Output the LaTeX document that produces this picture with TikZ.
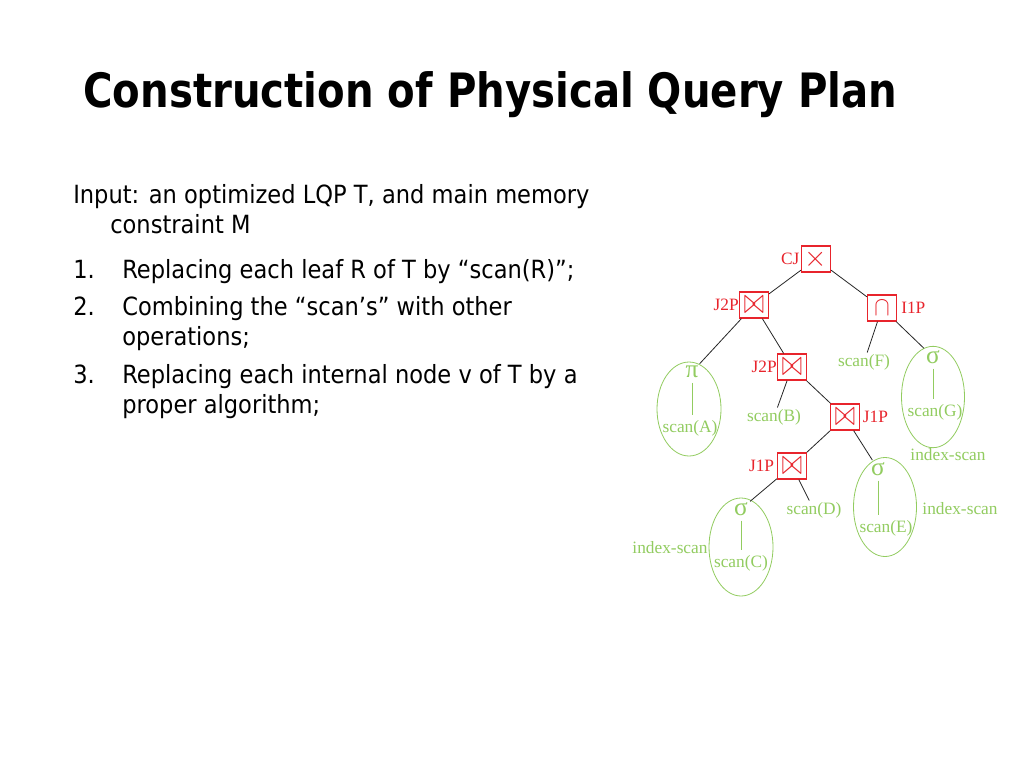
\documentclass[tikz,border=0pt]{standalone}
\usepackage{fontspec}
\setmainfont{Liberation Serif}
\newfontfamily\tahoma[FakeStretch=0.9]{DejaVu Sans}
\newfontfamily\tahomatitle[FakeStretch=0.85]{DejaVu Sans}
\usetikzlibrary{shapes.geometric,positioning}
\definecolor{opred}{RGB}{232,36,44}
\definecolor{leafgreen}{RGB}{146,204,96}

\begin{document}
\begin{tikzpicture}
    [x=0.75pt,y=-0.75pt,
     title/.style={anchor=base west,inner sep=0,font=\tahomatitle\bfseries\fontsize{35.5}{40}\selectfont},
     body/.style={anchor=base west,inner sep=0,font=\tahoma\fontsize{18.8}{22}\selectfont},
     opbox/.style={draw=opred,line width=1pt,minimum width=21.5pt,minimum height=19.5pt,inner sep=0,text=opred,font=\fontsize{15}{15}\selectfont},
     oplabel/.style={text=opred,inner sep=0,font=\fontsize{13}{14}\selectfont},
     leaf/.style={text=leafgreen,inner sep=1pt,font=\fontsize{13}{14}\selectfont},
     greek/.style={text=leafgreen,inner sep=1.5pt,font=\fontsize{19}{19}\selectfont},
     block/.style={ellipse,draw=leafgreen,line width=0.6pt,inner sep=0},
     tree/.style={draw=black!85,line width=0.6pt},
     stem/.style={draw=leafgreen,line width=0.6pt,shorten <=2pt,shorten >=3pt}]
    \fill[white] (0,0) rectangle (1024,768);
    \useasboundingbox (0,0) rectangle (1024,768);

    % text on the left
    \node[title] (ttl) at (83,107) {Construction of Physical Query Plan};
    \node[body] (in1) at (73,203) {Input: an optimized LQP T, and main memory};
    \node[body] (in2) at (110,233) {constraint M};
    \node[body] (n1) at (73,278) {1.};
    \node[body] (s1) at (122,278) {Replacing each leaf R of T by “scan(R)”;};
    \node[body] (n2) at (73,315) {2.};
    \node[body] (s2) at (122,315) {Combining the “scan’s” with other};
    \node[body] (s2b) at (122,345) {operations;};
    \node[body] (n3) at (73,383) {3.};
    \node[body] (s3) at (122,383) {Replacing each internal node v of T by a};
    \node[body] (s3b) at (122,413) {proper algorithm;};

    % operators
    \node[opbox] (cj) at (816,259) {\scalebox{1.5}{$\times$}};
    \node[opbox] (j2top) at (754,305) {\scalebox{1.3}[1.9]{$\bowtie$}};
    \node[opbox] (i1) at (882,308) {\scalebox{1.2}[1.4]{$\cap$}};
    \node[opbox] (j2mid) at (792,367) {\scalebox{1.3}[1.9]{$\bowtie$}};
    \node[opbox] (j1mid) at (845,417) {\scalebox{1.3}[1.9]{$\bowtie$}};
    \node[opbox] (j1low) at (792,466) {\scalebox{1.3}[1.9]{$\bowtie$}};
    \node[oplabel,left=1pt of cj] (cjname) {CJ};
    \node[oplabel,left=0pt of j2top] (j2topname) {J2P};
    \node[oplabel,right=3pt of i1] (i1name) {I1P};
    \node[oplabel,left=0pt of j2mid] (j2midname) {J2P};
    \node[oplabel,right=2pt of j1mid] (j1midname) {J1P};
    \node[oplabel,left=2pt of j1low] (j1lowname) {J1P};

    % leaves
    \node[block,minimum width=48pt,minimum height=70.5pt] (blkA) at (689,409) {};
    \node[greek] (piA) at (692,372) {π};
    \node[leaf] (scanA) at (690,428) {scan(A)};
    \node[block,minimum width=47.25pt,minimum height=76pt] (blkG) at (933,397) {};
    \node[greek] (sigG) at (933,357) {σ};
    \node[leaf] (scanG) at (935,412) {scan(G)};
    \node[block,minimum width=47.25pt,minimum height=74.25pt] (blkE) at (885,507) {};
    \node[greek] (sigE) at (878,469) {σ};
    \node[leaf] (scanE) at (886,528) {scan(E)};
    \node[block,minimum width=48pt,minimum height=73.5pt] (blkC) at (741,547) {};
    \node[greek] (sigC) at (741,509) {σ};
    \node[leaf] (scanC) at (741,563) {scan(C)};
    \node[leaf] (scanF) at (864,362) {scan(F)};
    \node[leaf] (scanB) at (774,417) {scan(B)};
    \node[leaf] (scanD) at (814,510) {scan(D)};
    \node[leaf] (idxG) at (948,455) {index-scan};
    \node[leaf] (idxE) at (960,509) {index-scan};
    \node[leaf] (idxC) at (670,548) {index-scan};

    \draw[stem] (piA.south) -- (piA.south |- scanA.north);
    \draw[stem] (sigG.south) -- (sigG.south |- scanG.north);
    \draw[stem] (sigE.south) -- (sigE.south |- scanE.north);
    \draw[stem] (sigC.south) -- (sigC.south |- scanC.north);

    \path[tree] (cj) edge (j2top) (cj) edge (i1);
    \path[tree] (j2top) edge (piA) (j2top) edge (j2mid);
    \path[tree] (i1) edge (scanF) (i1) edge (sigG);
    \path[tree] (j2mid) edge (scanB) (j2mid) edge (j1mid);
    \path[tree] (j1mid) edge (j1low) (j1mid) edge (sigE);
    \path[tree] (j1low) edge (sigC) (j1low) edge (scanD);

  \end{tikzpicture}
\end{document}
